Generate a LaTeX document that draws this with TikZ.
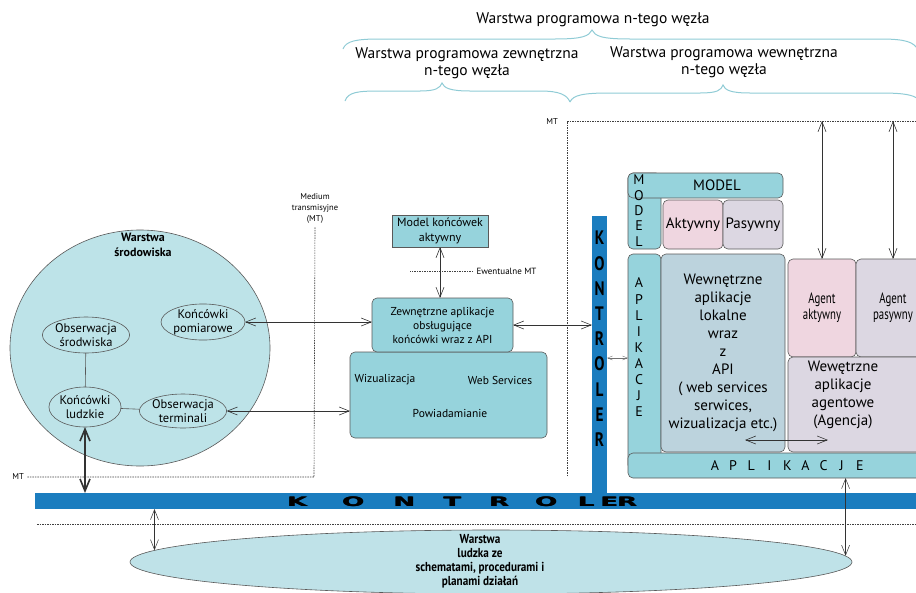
\documentclass[tikz,border=0pt]{standalone}
\usepackage{fontspec}
\setmainfont{PT Sans}
\newfontfamily\heavyfont{DejaVu Sans}
\usepackage{graphicx}
\usetikzlibrary{shapes.geometric}
\usetikzlibrary{arrows.meta}
\usetikzlibrary{calc}

\definecolor{tealbox}{HTML}{96D3DC}
\definecolor{circfill}{HTML}{BDE3E8}
\definecolor{humfill}{HTML}{BFE2E8}
\definecolor{lokfill}{HTML}{BCD3DD}
\definecolor{pinkfill}{HTML}{EFD6E0}
\definecolor{lavfill}{HTML}{DCD7E2}
\definecolor{barblue}{HTML}{1B7DBF}
\definecolor{bracecol}{HTML}{8FCBD5}

\tikzset{
  box/.style={draw=black!65, fill=tealbox, rounded corners=5pt, inner sep=0pt, outer sep=0pt, line width=0.6pt, align=center},
  sqbox/.style={box, rounded corners=0pt},
  oval/.style={ellipse, draw=black!65, fill=circfill, inner sep=0pt, outer sep=0pt, minimum width=70pt, minimum height=36pt, align=center, font=\fontsize{12.5}{14}\selectfont, line width=0.6pt},
  dbl/.style={{Straight Barb[length=10pt,width=8pt]}-{Straight Barb[length=10pt,width=8pt]}, draw=black!80, line width=0.6pt},
  mtline/.style={draw=black!75, dash pattern=on 1.5pt off 1pt, line width=0.6pt},
  brace/.style={draw=bracecol, line width=1pt},
  toplbl/.style={font=\fontsize{15.5}{17}\selectfont, align=center},
  bigtxt/.style={font=\fontsize{15}{18}\selectfont, align=center},
  midtxt/.style={font=\fontsize{11.5}{14}\selectfont, align=center},
  smalltxt/.style={font=\fontsize{8.5}{11}\selectfont, align=center},
  bar/.style={fill=barblue, inner sep=0pt, outer sep=0pt},
  khletter/.style={inner sep=0pt, font=\heavyfont\bfseries\fontsize{13}{13}\selectfont},
}

\begin{document}
\begin{tikzpicture}[x=1pt,y=-1pt]
\useasboundingbox (0,0) rectangle (916,592);
\clip (0,0) rectangle (916,592);

% Braces and layer titles
\draw[brace] (343,49) .. controls (346,41) and (356,39) .. (380,39) -- (555,39) .. controls (583,39) and (589,36) .. (592,30) .. controls (595,36) and (601,39) .. (630,39) -- (880,39) .. controls (906,39) and (914,42) .. (918,50);
\draw[brace] (345,101) .. controls (348,92) and (358,91) .. (380,91) -- (420,91) .. controls (436,91) and (440,88) .. (442,83) .. controls (444,88) and (450,91) .. (470,91) -- (540,91) .. controls (560,91) and (567,95) .. (570,102);
\draw[brace] (570,102) .. controls (573,95) and (583,93) .. (610,93) -- (700,93) .. controls (718,93) and (721,90) .. (723,85) .. controls (725,90) and (730,93) .. (750,93) -- (880,93) .. controls (905,93) and (913,95) .. (918,99);
\node[toplbl] (top) at (593,20) {Warstwa programowa n-tego węzła};
\node[toplbl] (zew) at (467,63) {Warstwa programowa zewnętrzna\\n-tego węzła};
\node[toplbl] (wew) at (724,62) {Warstwa programowa wewnętrzna\\n-tego węzła};

% Transmission media
\node[smalltxt] (med) at (315,208) {Medium\\transmisyjne\\(MT)};
\node[smalltxt] (mtl) at (18,477) {MT};
\coordinate (mtc) at (314,477);
\draw[mtline] (mtl.east) -- (mtc) -- (med.south);
\node[smalltxt] (mtt) at (552,122) {MT};
\coordinate (mttl) at (567,121);
\coordinate (mttr) at (920,121);
\coordinate (mtbot) at (567,476);
\draw[mtline] (mtbot) -- (mttl) -- (mttr);
\coordinate (mb1) at (37,524);
\coordinate (mb2) at (920,524);
\draw[mtline] (mb1) -- (mb2);

% Controller bars
\node[bar, minimum width=895pt, minimum height=16pt] (kh) at (482.5,501) {};
\node[bar, minimum width=15pt, minimum height=277pt] (kv) at (599.5,354.5) {};
\foreach \l [count=\i from 0] in {K,O,N,T,R,O,L,E,R}
  \node[inner sep=0pt, font=\bfseries\fontsize{19.5}{19.5}\selectfont] at (599.5,238+25.2*\i) {\scalebox{0.78}[1]{\l}};
\foreach \x/\l in {297/K,353/O,404/N,452/T,499/R,546/O,586/L,609/E,627/R} {
  \node[khletter] at (\x,502) {\scalebox{2}[1]{\l}};
  \node[khletter] at (\x+0.7,502) {\scalebox{2}[1]{\l}};
}

% Environment layer
\node[ellipse, draw=black!65, fill=circfill, minimum width=260pt, minimum height=236pt, line width=0.6pt] (env) at (140,348) {};
\node[font=\bfseries\fontsize{12}{15}\selectfont, align=center] (envt) at (143,245) {Warstwa\\środowiska};
\node[oval] (pom) at (203,322) {Końcówki\\pomiarowe};
\node[oval] (obs) at (86,335) {Obserwacja\\środwiska};
\node[oval, minimum height=40pt] (lud) at (85,407) {Końcówki\\ludzkie};
\node[oval, minimum height=34pt] (term) at (183,411) {Obserwacja\\terminali};
\draw[black!65, line width=0.6pt] (obs) -- (lud);
\draw[black!65, line width=0.6pt] (lud) -- (term);

% External applications
\node[sqbox, minimum width=96pt, minimum height=32pt, font=\fontsize{12}{15}\selectfont] (mod) at (440,231) {Model końcówek\\aktywny};
\node[box, minimum width=197pt, minimum height=86pt] (serv) at (448.5,395) {};
\node[midtxt] (wiz) at (385,380) {Wizualizacja};
\node[midtxt] (web) at (500,380) {Web Services};
\node[midtxt] (pow) at (450,413) {Powiadamianie};
\node[box, minimum width=141pt, minimum height=54pt, midtxt] (zapp) at (442.5,325) {Zewnętrzne aplikacje\\obsługujące\\końcówki wraz z API};
\node[smalltxt, anchor=west, font=\fontsize{9}{11}\selectfont] (ewt) at (473,271) {Ewentualne MT};
\draw[mtline] (ewt.west) -- ([xshift=-63pt]ewt.west);

% Internal layer
\node[box, minimum width=33pt, minimum height=76pt] (modv) at (644.5,211) {};
\node[box, minimum width=155pt, minimum height=25pt] (modh) at (705.5,185.5) {};
\node[bigtxt] (modt) at (717,185) {MODEL};
\foreach \l [count=\i from 0] in {M,O,D,E,L}
  \node[inner sep=0pt, font=\fontsize{14}{14}\selectfont] at (639,180+15.3*\i) {\l};
\node[box, fill=pinkfill, minimum width=60pt, minimum height=49pt, bigtxt] (akt) at (693,224.5) {Aktywny};
\node[box, fill=lavfill, minimum width=60pt, minimum height=49pt, bigtxt] (pas) at (753,224.5) {Pasywny};
\node[box, minimum width=33pt, minimum height=216pt] (aplv) at (644.5,362) {};
\node[box, minimum width=302pt, minimum height=25pt] (aplb) at (779,465.5) {};
\foreach \l [count=\i from 0] in {A,P,L,I,K,A,C,J,E}
  \node[inner sep=0pt, font=\fontsize{14}{14}\selectfont] at (639,283+16.1*\i) {\l};
\foreach \l [count=\i from 0] in {A,P,L,I,K,A,C,J,E}
  \node[inner sep=0pt, font=\fontsize{14}{14}\selectfont] at (715+18.1*\i,466) {\l};
\node[box, fill=lokfill, minimum width=124pt, minimum height=198pt, bigtxt] (lok) at (723,353) {Wewnętrzne\\aplikacje\\lokalne\\wraz\\z\\API\\( web services\\serwices,\\wizualizacja etc.)};
\node[box, fill=pinkfill, minimum width=68pt, minimum height=98pt, font=\fontsize{15}{16}\selectfont] (aga) at (822,308) {\scalebox{0.72}[1]{Agent}\\\scalebox{0.72}[1]{aktywny}};
\node[box, fill=lavfill, minimum width=74pt, minimum height=98pt, font=\fontsize{15}{16}\selectfont] (agp) at (893,308) {\scalebox{0.72}[1]{Agent}\\\scalebox{0.72}[1]{pasywny}};
\node[box, fill=lavfill, minimum width=142pt, minimum height=95pt] (agc) at (859,404.5) {};
\node[bigtxt] (agct) at (843,395) {Wewętrzne\\aplikacje\\agentowe\\(Agencja)};

% Human layer
\node[ellipse, draw=black!65, fill=humfill, minimum width=722pt, minimum height=64pt, inner sep=0pt, line width=0.6pt] (hum) at (491,562) {};
\node[font=\bfseries\fontsize{13}{14}\selectfont, align=center] (humt) at (480,561) {\scalebox{0.86}[1]{Warstwa}\\\scalebox{0.86}[1]{ludzka ze}\\\scalebox{0.86}[1]{schematami, procedurami i}\\\scalebox{0.86}[1]{planami działań}};

% Connections
\draw[dbl] (pom.east) -- (pom.east -| zapp.west);
\draw[dbl] (term.east) -- (term.east -| serv.west);
\draw[dbl] (mod.south) -- (mod.south |- zapp.north);
\draw[dbl] (zapp.east) -- (zapp.east -| kv.west);
\draw[{Straight Barb[length=5pt,width=4pt]}-{Straight Barb[length=5pt,width=4pt]}, draw=black!55, line width=0.4pt] (aplv.west |- 0,358) -- (kv.east |- 0,358);
\draw[dbl] (aga.north) -- (aga.north |- mttr);
\draw[dbl] (agp.north) -- (agp.north |- mttr);
\draw[dbl] ([xshift=-40pt,yshift=12pt]lok.south east) -- ([xshift=40pt,yshift=12pt]agc.south west);
\draw[{Straight Barb[length=12pt,width=10pt]}-{Straight Barb[length=12pt,width=10pt]}, draw=black!80, line width=1.6pt] (lud.south) -- (lud.south |- kh.north);
\draw[dbl, line width=0.5pt] (hum.178.7 |- kh.south) -- (hum.178.7);
\draw[dbl, line width=0.5pt] (hum.1.7 |- aplb.south) -- (hum.1.7);

\end{tikzpicture}
\end{document}
